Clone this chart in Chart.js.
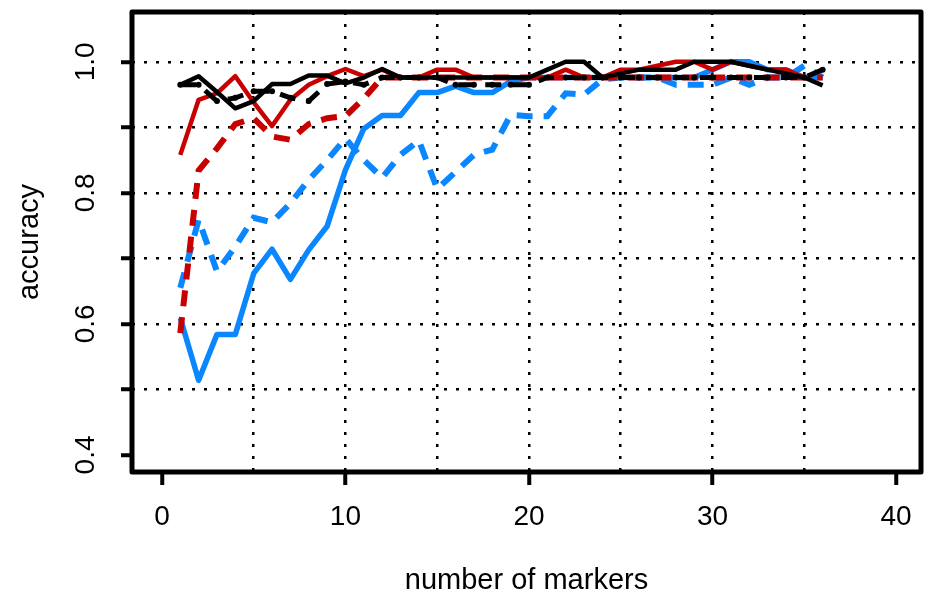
<!DOCTYPE html>
<html>
<head>
<meta charset="utf-8">
<script src="https://cdn.jsdelivr.net/npm/chart.js@4/dist/chart.umd.min.js"></script>
<style>
  html, body { margin: 0; padding: 0; background: #fff; }
  #wrap { width: 936px; height: 599px; }
</style>
</head>
<body>
<div id="wrap"><canvas id="chartJSContainer" width="936" height="599"></canvas></div>
<script>
// number of markers on x, accuracy on y
var markers = [1, 2, 3, 4, 5, 6, 7, 8, 9, 10, 11, 12, 13, 14, 15, 16, 17, 18,
  19, 20, 21, 22, 23, 24, 25, 26, 27, 28, 29, 30, 31, 32, 33, 34, 35, 36];

var blueSolid = [0.609, 0.514, 0.584, 0.584, 0.677, 0.714, 0.668, 0.713, 0.749, 0.835,
  0.898, 0.918, 0.918, 0.953, 0.953, 0.963, 0.953, 0.953, 0.970, 0.976,
  0.976, 0.976, 0.976, 0.976, 0.976, 0.976, 0.976, 0.976, 0.976, 0.988,
  1.0, 1.0, 0.988, 0.988, 0.976, 0.976];
var blueDashed = [0.655, 0.759, 0.680, 0.718, 0.762, 0.755, 0.784, 0.820, 0.850, 0.883,
  0.850, 0.823, 0.858, 0.880, 0.806, 0.832, 0.858, 0.866, 0.919, 0.917,
  0.917, 0.952, 0.950, 0.973, 0.976, 0.976, 0.976, 0.965, 0.965, 0.965,
  0.976, 0.965, 0.976, 0.976, 0.994, 0.976];
var redSolid = [0.858, 0.942, 0.952, 0.978, 0.938, 0.902, 0.942, 0.965, 0.978, 0.989,
  0.978, 0.988, 0.976, 0.976, 0.988, 0.988, 0.976, 0.976, 0.976, 0.976,
  0.976, 0.988, 0.976, 0.976, 0.988, 0.988, 0.994, 1.0, 1.0, 0.988,
  1.0, 0.994, 0.988, 0.988, 0.976];
var redDashed = [0.586, 0.834, 0.868, 0.905, 0.914, 0.886, 0.881, 0.905, 0.914, 0.917,
  0.944, 0.976, 0.976, 0.976, 0.976, 0.976, 0.976, 0.976, 0.976, 0.976,
  0.976, 0.976, 0.976, 0.976, 0.976, 0.976, 0.976, 0.976, 0.976, 0.976,
  0.976, 0.976, 0.976, 0.976, 0.976, 0.976];
var blackSolid = [0.965, 0.978, 0.954, 0.929, 0.940, 0.966, 0.966, 0.979, 0.979, 0.967,
  0.976, 0.989, 0.976, 0.976, 0.976, 0.976, 0.976, 0.976, 0.976, 0.976,
  0.988, 1.0, 1.0, 0.976, 0.982, 0.988, 0.988, 0.988, 1.0, 1.0,
  1.0, 0.994, 0.988, 0.982, 0.976, 0.964];
var blackDashed = [0.965, 0.965, 0.940, 0.945, 0.955, 0.955, 0.945, 0.940, 0.966, 0.970,
  0.965, 0.976, 0.976, 0.976, 0.976, 0.965, 0.965, 0.965, 0.965, 0.965,
  0.976, 0.976, 0.976, 0.976, 0.976, 0.976, 0.976, 0.976, 0.976, 0.976,
  0.976, 0.976, 0.976, 0.976, 0.976, 0.988];

var xTicks = [0, 5, 10, 15, 20, 25, 30, 35, 40];
var xLabels = [0, 10, 20, 30, 40];
var yTicks = [0.4, 0.5, 0.6, 0.7, 0.8, 0.9, 1.0];
var yLabels = [0.4, 0.6, 0.8, 1.0];

var blue = '#0a86ff';
var red = '#c80000';
var black = '#000000';
var none = 'rgba(0,0,0,0)';

function points(values) {
  return values.map(function(v, i) {
    return {x: markers[i], y: v};
  });
}

function series(values, colour, width, dashed, dots) {
  return {
    data: points(values),
    borderColor: colour,
    backgroundColor: colour,
    borderWidth: width,
    borderDash: dashed ? [16, 11] : [],
    borderCapStyle: 'butt',
    borderJoinStyle: dashed ? 'miter' : 'round',
    pointRadius: dots,
    pointBorderWidth: 0,
    pointBackgroundColor: colour,
    tension: 0,
    fill: false
  };
}

function isIn(list, v) {
  return list.some(function(l) { return Math.abs(l - v) < 1e-6; });
}

// thick box round the plot
var frame = {
  id: 'frame',
  afterDatasetsDraw: function(chart) {
    var a = chart.chartArea;
    var ctx = chart.ctx;
    ctx.save();
    ctx.lineWidth = 5;
    ctx.strokeStyle = '#000';
    ctx.lineJoin = 'round';
    ctx.strokeRect(a.left, a.top, a.right - a.left, a.bottom - a.top);
    ctx.restore();
  }
};

var tickFont = {family: "'Liberation Sans', Arial, sans-serif", size: 28};
var titleFont = {family: "'Liberation Sans', Arial, sans-serif", size: 29};

var options = {
  type: 'line',
  data: {
    datasets: [
      series(blackDashed, black, 5, true, 3),
      series(blackSolid, black, 4.5, false, 0),
      series(redSolid, red, 4.5, false, 0),
      series(redDashed, red, 6, true, 0),
      series(blueSolid, blue, 5.5, false, 0),
      series(blueDashed, blue, 6, true, 0)
    ]
  },
  plugins: [frame],
  options: {
    responsive: false,
    animation: false,
    events: [],
    layout: {padding: {top: 12, right: 15, left: 0, bottom: 0}},
    plugins: {
      legend: {display: false},
      tooltip: {enabled: false}
    },
    scales: {
      x: {
        type: 'linear',
        min: -1.63,
        max: 41.36,
        afterBuildTicks: function(scale) {
          scale.ticks = xTicks.map(function(v) { return {value: v}; });
        },
        afterFit: function(scale) { scale.height = 127; },
        border: {display: false, dash: [3, 9]},
        grid: {
          lineWidth: 2.5,
          tickWidth: 4,
          tickLength: 13,
          color: function(c) {
            return c.tick && c.tick.value > 0 && c.tick.value < 40 ? black : none;
          },
          tickColor: function(c) {
            return c.tick && isIn(xLabels, c.tick.value) ? black : none;
          }
        },
        ticks: {
          color: black,
          font: tickFont,
          padding: 15,
          maxRotation: 0,
          autoSkip: false,
          callback: function(v) { return isIn(xLabels, v) ? String(v) : ''; }
        },
        title: {
          display: true,
          text: 'number of markers',
          color: black,
          font: titleFont,
          padding: {top: 0, bottom: 1}
        }
      },
      y: {
        type: 'linear',
        min: 0.374,
        max: 1.076,
        afterBuildTicks: function(scale) {
          scale.ticks = yTicks.map(function(v) { return {value: v}; });
        },
        afterFit: function(scale) {
          scale.width = 132;
          scale.paddingTop = 0;
          scale.paddingBottom = 0;
        },
        border: {display: false, dash: [3, 9]},
        grid: {
          lineWidth: 2.5,
          tickWidth: 4,
          tickLength: 11,
          color: function(c) {
            return c.tick && c.tick.value > 0.45 ? black : none;
          },
          tickColor: black
        },
        ticks: {
          color: black,
          font: tickFont,
          padding: 15,
          minRotation: 90,
          maxRotation: 90,
          crossAlign: 'center',
          autoSkip: false,
          callback: function(v) { return isIn(yLabels, v) ? v.toFixed(1) : ''; }
        },
        title: {
          display: true,
          text: 'accuracy',
          color: black,
          font: titleFont,
          padding: {top: 13, bottom: 0}
        }
      }
    }
  }
};

var ctx = document.getElementById('chartJSContainer').getContext('2d');
var chart = new Chart(ctx, options);
</script>
</body>
</html>
